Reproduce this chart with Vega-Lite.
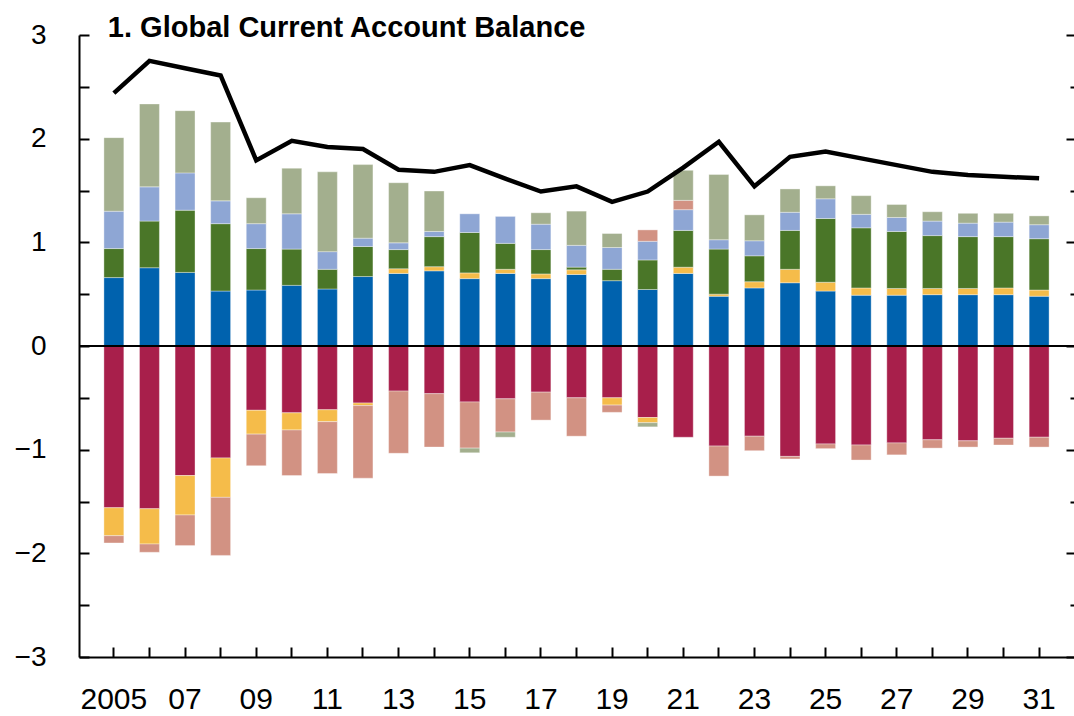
{
  "$schema": "https://vega.github.io/schema/vega-lite/v6.json",
  "width": 995,
  "height": 622,
  "autosize": {"type": "none"},
  "padding": {"left": 79, "top": 35, "right": 0, "bottom": 59},
  "background": "white",
  "config": {"view": {"stroke": null}, "font": "Liberation Sans"},
  "data": {
    "values": [
      {"year": 2005, "Europe creditors": 0.66, "Euro area debtors": -0.27, "China": 0.28, "Advanced Asia": 0.36, "Other": -0.07, "Oil exporters": 0.71, "United States": -1.56, "total": 2.44},
      {"year": 2006, "Europe creditors": 0.755, "Euro area debtors": -0.34, "China": 0.45, "Advanced Asia": 0.33, "Other": -0.08, "Oil exporters": 0.8, "United States": -1.57, "total": 2.75},
      {"year": 2007, "Europe creditors": 0.71, "Euro area debtors": -0.38, "China": 0.6, "Advanced Asia": 0.36, "Other": -0.295, "Oil exporters": 0.6, "United States": -1.25, "total": 2.68},
      {"year": 2008, "Europe creditors": 0.53, "Euro area debtors": -0.38, "China": 0.65, "Advanced Asia": 0.22, "Other": -0.56, "Oil exporters": 0.76, "United States": -1.08, "total": 2.61},
      {"year": 2009, "Europe creditors": 0.54, "Euro area debtors": -0.23, "China": 0.4, "Advanced Asia": 0.24, "Other": -0.305, "Oil exporters": 0.25, "United States": -0.62, "total": 1.79},
      {"year": 2010, "Europe creditors": 0.585, "Euro area debtors": -0.165, "China": 0.35, "Advanced Asia": 0.34, "Other": -0.44, "Oil exporters": 0.44, "United States": -0.645, "total": 1.98},
      {"year": 2011, "Europe creditors": 0.55, "Euro area debtors": -0.115, "China": 0.19, "Advanced Asia": 0.17, "Other": -0.5, "Oil exporters": 0.77, "United States": -0.615, "total": 1.92},
      {"year": 2012, "Europe creditors": 0.67, "Euro area debtors": -0.025, "China": 0.29, "Advanced Asia": 0.08, "Other": -0.7, "Oil exporters": 0.71, "United States": -0.55, "total": 1.9},
      {"year": 2013, "Europe creditors": 0.7, "Euro area debtors": 0.045, "China": 0.185, "Advanced Asia": 0.065, "Other": -0.6, "Oil exporters": 0.58, "United States": -0.435, "total": 1.7},
      {"year": 2014, "Europe creditors": 0.725, "Euro area debtors": 0.04, "China": 0.29, "Advanced Asia": 0.05, "Other": -0.515, "Oil exporters": 0.39, "United States": -0.46, "total": 1.68},
      {"year": 2015, "Europe creditors": 0.65, "Euro area debtors": 0.055, "China": 0.39, "Advanced Asia": 0.18, "Other": -0.445, "Oil exporters": -0.045, "United States": -0.54, "total": 1.745},
      {"year": 2016, "Europe creditors": 0.7, "Euro area debtors": 0.04, "China": 0.25, "Advanced Asia": 0.26, "Other": -0.32, "Oil exporters": -0.05, "United States": -0.51, "total": 1.615},
      {"year": 2017, "Europe creditors": 0.65, "Euro area debtors": 0.045, "China": 0.235, "Advanced Asia": 0.245, "Other": -0.27, "Oil exporters": 0.11, "United States": -0.445, "total": 1.49},
      {"year": 2018, "Europe creditors": 0.69, "Euro area debtors": 0.045, "China": 0.026, "Advanced Asia": 0.21, "Other": -0.37, "Oil exporters": 0.33, "United States": -0.5, "total": 1.54},
      {"year": 2019, "Europe creditors": 0.63, "Euro area debtors": -0.07, "China": 0.11, "Advanced Asia": 0.21, "Other": -0.07, "Oil exporters": 0.135, "United States": -0.5, "total": 1.39},
      {"year": 2020, "Europe creditors": 0.545, "Euro area debtors": -0.05, "China": 0.285, "Advanced Asia": 0.18, "Other": 0.11, "Oil exporters": -0.04, "United States": -0.69, "total": 1.49},
      {"year": 2021, "Europe creditors": 0.7, "Euro area debtors": 0.06, "China": 0.355, "Advanced Asia": 0.2, "Other": 0.09, "Oil exporters": 0.29, "United States": -0.88, "total": 1.72},
      {"year": 2022, "Europe creditors": 0.48, "Euro area debtors": 0.02, "China": 0.435, "Advanced Asia": 0.09, "Other": -0.29, "Oil exporters": 0.63, "United States": -0.965, "total": 1.97},
      {"year": 2023, "Europe creditors": 0.56, "Euro area debtors": 0.06, "China": 0.25, "Advanced Asia": 0.145, "Other": -0.14, "Oil exporters": 0.25, "United States": -0.87, "total": 1.54},
      {"year": 2024, "Europe creditors": 0.61, "Euro area debtors": 0.13, "China": 0.375, "Advanced Asia": 0.175, "Other": -0.025, "Oil exporters": 0.225, "United States": -1.065, "total": 1.825},
      {"year": 2025, "Europe creditors": 0.53, "Euro area debtors": 0.085, "China": 0.615, "Advanced Asia": 0.19, "Other": -0.045, "Oil exporters": 0.125, "United States": -0.945, "total": 1.875},
      {"year": 2026, "Europe creditors": 0.49, "Euro area debtors": 0.07, "China": 0.58, "Advanced Asia": 0.13, "Other": -0.145, "Oil exporters": 0.18, "United States": -0.955, "total": 1.81},
      {"year": 2027, "Europe creditors": 0.49, "Euro area debtors": 0.065, "China": 0.55, "Advanced Asia": 0.135, "Other": -0.115, "Oil exporters": 0.125, "United States": -0.935, "total": 1.745},
      {"year": 2028, "Europe creditors": 0.495, "Euro area debtors": 0.06, "China": 0.51, "Advanced Asia": 0.14, "Other": -0.08, "Oil exporters": 0.09, "United States": -0.905, "total": 1.68},
      {"year": 2029, "Europe creditors": 0.495, "Euro area debtors": 0.06, "China": 0.5, "Advanced Asia": 0.13, "Other": -0.06, "Oil exporters": 0.095, "United States": -0.915, "total": 1.65},
      {"year": 2030, "Europe creditors": 0.495, "Euro area debtors": 0.065, "China": 0.495, "Advanced Asia": 0.14, "Other": -0.065, "Oil exporters": 0.085, "United States": -0.89, "total": 1.633},
      {"year": 2031, "Europe creditors": 0.48, "Euro area debtors": 0.06, "China": 0.495, "Advanced Asia": 0.135, "Other": -0.095, "Oil exporters": 0.085, "United States": -0.88, "total": 1.617}
    ]
  },
  "layer": [
    {
      "transform": [
        {"fold": ["United States", "Europe creditors", "Euro area debtors", "China", "Advanced Asia", "Other", "Oil exporters"], "as": ["series", "value"]},
        {"calculate": "indexof(['United States', 'Europe creditors', 'Euro area debtors', 'China', 'Advanced Asia', 'Other', 'Oil exporters'], datum.series)", "as": "rank"}
      ],
      "mark": {"type": "bar", "stroke": "white", "strokeWidth": 0.8, "strokeOpacity": 0.45},
      "encoding": {
        "x": {
          "field": "year",
          "type": "ordinal",
          "scale": {"paddingInner": 0.44, "paddingOuter": 0.7},
          "axis": {
            "title": null,
            "labelAngle": 0,
            "labelFont": "Liberation Sans",
            "labelFontSize": 30,
            "labelColor": "black",
            "labelPadding": 37,
            "labelExpr": "datum.value == 2005 ? '2005' : (datum.value % 2 == 1 ? slice(datum.label, 2) : '')",
            "domainColor": "black",
            "domainWidth": 2,
            "tickColor": "black",
            "tickWidth": 2,
            "tickSize": -10,
            "grid": false
          }
        },
        "y": {
          "field": "value",
          "type": "quantitative",
          "stack": "zero",
          "scale": {"domain": [-3, 3], "nice": false, "zero": false},
          "axis": {
            "title": null,
            "values": [-3, -2.5, -2, -1.5, -1, -0.5, 0, 0.5, 1, 1.5, 2, 2.5, 3],
            "labelExpr": "datum.value % 1 == 0 ? replace(format(datum.value, 'd'), '-', '\u2212') : ''",
            "labelFont": "Liberation Sans",
            "labelFontSize": 28,
            "labelColor": "black",
            "labelPadding": 43,
            "domainColor": "black",
            "domainWidth": 2,
            "tickColor": "black",
            "tickWidth": 2,
            "tickSize": -10,
            "grid": false
          }
        },
        "color": {
          "field": "series",
          "type": "nominal",
          "scale": {
            "domain": ["United States", "Europe creditors", "Euro area debtors", "China", "Advanced Asia", "Other", "Oil exporters"],
            "range": ["#A81F4B", "#0062AE", "#F5BC4A", "#4A7628", "#8EA6D4", "#D29283", "#A3AF8E"]
          },
          "legend": null
        },
        "order": {"field": "rank", "type": "quantitative"}
      }
    },
    {
      "data": {"values": [{"zero": 0}]},
      "mark": {"type": "rule", "color": "black", "strokeWidth": 2},
      "encoding": {
        "y": {
          "field": "zero",
          "type": "quantitative",
          "scale": {"domain": [-3, 3], "nice": false, "zero": false},
          "axis": {
            "orient": "right",
            "title": null,
            "values": [-3, -2.5, -2, -1.5, -1, -0.5, 0, 0.5, 1, 1.5, 2, 2.5, 3],
            "labels": false,
            "domain": false,
            "grid": false,
            "tickColor": "black",
            "tickWidth": 2,
            "tickSize": {"condition": {"test": "datum.value % 1 == 0", "value": -8}, "value": -4}
          }
        }
      }
    },
    {
      "mark": {"type": "line", "color": "black", "strokeWidth": 4.5, "strokeJoin": "miter"},
      "encoding": {
        "x": {"field": "year", "type": "ordinal"},
        "y": {"field": "total", "type": "quantitative", "axis": null}
      }
    },
    {
      "data": {"values": [{"label": "1. Global Current Account Balance", "year": 2005, "top": 3}]},
      "mark": {"type": "text", "align": "left", "baseline": "alphabetic", "dx": -6, "dy": 2, "font": "Liberation Sans", "fontSize": 29, "fontWeight": "bold", "color": "black"},
      "encoding": {
        "x": {"field": "year", "type": "ordinal"},
        "y": {"field": "top", "type": "quantitative", "axis": null},
        "text": {"field": "label"}
      }
    }
  ],
  "resolve": {"axis": {"y": "independent"}}
}
